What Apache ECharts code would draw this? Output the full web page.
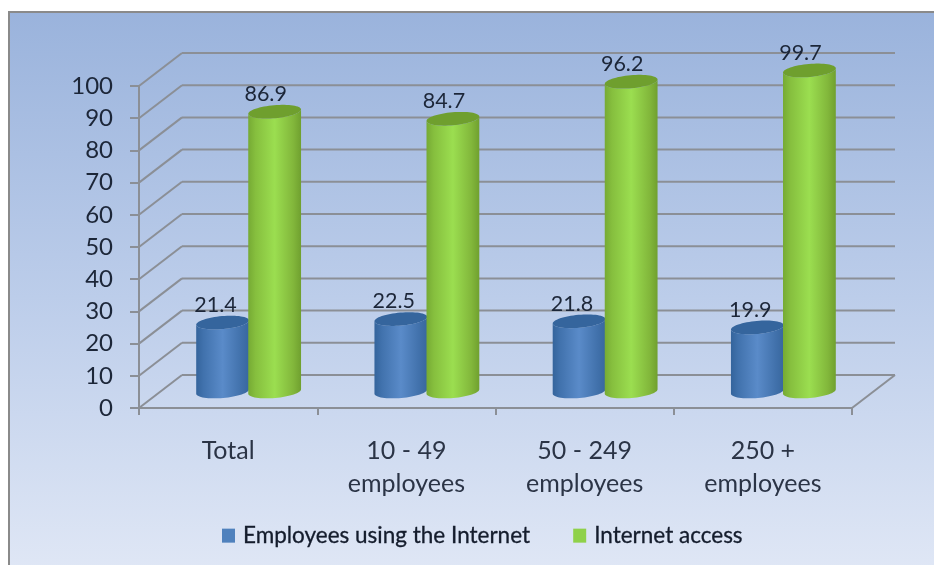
<!DOCTYPE html>
<html>
<head>
<meta charset="utf-8">
<style>html,body{margin:0;padding:0;background:#fff}#c{width:934px;height:565px}</style>
<script src="https://cdn.jsdelivr.net/npm/echarts@6/dist/echarts.min.js"></script>
</head>
<body>
<div id="c"></div>
<script>
// Chart data
const categories = ['Total', '10 - 49\nemployees', '50 - 249\nemployees', '250 +\nemployees'];
const employeesUsingInternet = [21.4, 22.5, 21.8, 19.9];
const internetAccess = [86.9, 84.7, 96.2, 99.7];
const gridValues = [0, 10, 20, 30, 40, 50, 60, 70, 80, 90, 100];

// Pseudo-3D depth of the plot box, in pixels
const DEPTH_X = 43, DEPTH_Y = 33;
const LINE_COLOR = '#8b8f96';
const TEXT_COLOR = '#1c2638';
const FONT = 'Lato, "Open Sans", sans-serif';

const chart = echarts.init(document.getElementById('c'));
const G = echarts.graphic;

// Wall gridlines: one side-wall diagonal and one back-wall line per tick
function renderWalls(params, api) {
  const v = api.value(0);
  const cs = params.coordSys;
  const y = api.coord([0, v])[1];
  const x0 = cs.x, x1 = cs.x + cs.width;
  const style = { stroke: LINE_COLOR, lineWidth: 2, fill: null };
  const children = [
    { type: 'line', shape: { x1: x0, y1: y, x2: x0 + DEPTH_X, y2: y - DEPTH_Y }, style },
    { type: 'line', shape: { x1: x0 + DEPTH_X, y1: y - DEPTH_Y, x2: x1 + DEPTH_X, y2: y - DEPTH_Y }, style }
  ];
  if (v === 0) {
    children.push({ type: 'line', shape: { x1: x1, y1: y, x2: x1 + DEPTH_X, y2: y - DEPTH_Y }, style });
  }
  return { type: 'group', children };
}

// Tilted ellipse arc as a list of points
function arc(cx, cy, a, b, t0, t1, n) {
  const th = 5 * Math.PI / 180, pts = [];
  for (let i = 0; i <= n; i++) {
    const t = t0 + (t1 - t0) * i / n;
    const ex = a * Math.cos(t), ey = b * Math.sin(t);
    pts.push([cx + ex * Math.cos(th) + ey * Math.sin(th), cy - ex * Math.sin(th) + ey * Math.cos(th)]);
  }
  return pts;
}

// Cylinder standing in the middle of the floor depth
function cylinderRenderer(sideOffset, stops, capColor, labelDx) {
  return function (params, api) {
    const idx = api.value(0), val = api.value(1);
    const band = api.size([1, 0])[0];
    const top = api.coord([idx, val]);
    const base = api.coord([idx, 0]);
    const cx = top[0] + DEPTH_X / 2 - 1 + band * sideOffset;
    const topY = top[1] - DEPTH_Y / 2, baseY = base[1] - DEPTH_Y / 2;
    const a = 26.5, b = 6.5;
    const capPts = arc(cx, topY, a, b, 0, Math.PI * 2, 64);
    const bodyPts = arc(cx, baseY, a, b, 0, Math.PI, 32).concat(arc(cx, topY, a, b, Math.PI, 0, 32));
    return {
      type: 'group',
      children: [
        { type: 'polygon', shape: { points: bodyPts },
          style: { fill: new G.LinearGradient(0, 0, 1, 0, stops) } },
        { type: 'polygon', shape: { points: capPts }, style: { fill: capColor } },
        { type: 'text', style: {
            text: val.toFixed(1), x: cx + labelDx, y: topY - 17.5,
            align: 'center', verticalAlign: 'middle',
            font: '21.5px ' + FONT, fill: TEXT_COLOR } }
      ]
    };
  };
}

const blueStops = [
  { offset: 0, color: '#34649c' }, { offset: 0.14, color: '#4172ad' },
  { offset: 0.5, color: '#5a8bc9' }, { offset: 0.85, color: '#4171ab' }, { offset: 1, color: '#38679e' }
];
const greenStops = [
  { offset: 0, color: '#76aa34' }, { offset: 0.14, color: '#86bf3e' },
  { offset: 0.5, color: '#9bde50' }, { offset: 0.85, color: '#82b73b' }, { offset: 1, color: '#70a02f' }
];

chart.setOption({
  animation: false,
  backgroundColor: '#ffffff',
  graphic: [{
    type: 'rect', z: -10, silent: true,
    shape: { x: 9, y: 12, width: 940, height: 570 },
    style: {
      stroke: '#8a8a8a', lineWidth: 2,
      fill: new G.LinearGradient(0, 0, 0, 1, [
        { offset: 0, color: '#9ab3dc' }, { offset: 0.5, color: '#bccdea' }, { offset: 1, color: '#e1e8f6' }
      ])
    }
  }],
  grid: { left: 139, right: 82, top: 86, bottom: 157 },
  legend: {
    left: 217, top: 519, itemWidth: 13, itemHeight: 14, itemGap: 43, icon: 'rect',
    data: ['Employees using the Internet', 'Internet access'],
    textStyle: { fontFamily: FONT, fontSize: 22.5, color: '#141c2c', padding: [0, 0, 0, 3],
      textBorderColor: '#141c2c', textBorderWidth: 0.3 }
  },
  xAxis: {
    type: 'category', data: categories,
    axisLine: { lineStyle: { color: LINE_COLOR, width: 2 } },
    axisTick: { show: true, length: 7, alignWithLabel: false, lineStyle: { color: LINE_COLOR, width: 2 } },
    axisLabel: { fontFamily: FONT, fontSize: 25, lineHeight: 33, color: '#2b3446', margin: 26, interval: 0 },
    splitLine: { show: false }
  },
  yAxis: {
    type: 'value', min: 0, max: 100, interval: 10,
    axisLine: { show: true, lineStyle: { color: LINE_COLOR, width: 2 } },
    axisTick: { show: true, length: 9, lineStyle: { color: LINE_COLOR, width: 2 } },
    axisLabel: { fontFamily: FONT, fontSize: 24, color: TEXT_COLOR, margin: 26 },
    splitLine: { show: false }
  },
  series: [
    { type: 'custom', name: 'walls', silent: true, z: 1, data: gridValues.map(v => [v]),
      encode: { y: 0 }, renderItem: renderWalls },
    { type: 'custom', name: 'Employees using the Internet', z: 3,
      itemStyle: { color: '#4f81bd' },
      data: employeesUsingInternet.map((v, i) => [i, v]), encode: { x: 0, y: 1 },
      renderItem: cylinderRenderer(-0.146, blueStops, '#35659d', -7) },
    { type: 'custom', name: 'Internet access', z: 4,
      itemStyle: { color: '#8fd14a' },
      data: internetAccess.map((v, i) => [i, v]), encode: { x: 0, y: 1 },
      renderItem: cylinderRenderer(0.146, greenStops, '#6f9f2e', -9) }
  ]
});
</script>
</body>
</html>
